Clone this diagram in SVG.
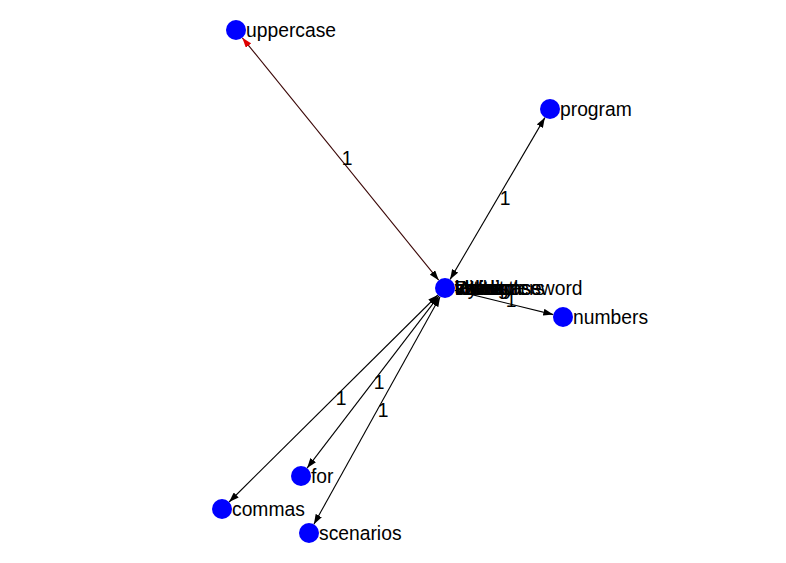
<svg xmlns="http://www.w3.org/2000/svg" width="786" height="563" viewBox="0 0 786 563">
<defs>
<marker id="ah" viewBox="0 0 10 7" refX="10" refY="3.5" markerWidth="10" markerHeight="7" markerUnits="userSpaceOnUse" orient="auto-start-reverse"><path d="M0,0 L10,3.5 L0,7 z" fill="#000"/></marker>
<marker id="ahr" viewBox="0 0 10 7" refX="10" refY="3.5" markerWidth="10" markerHeight="7" markerUnits="userSpaceOnUse" orient="auto"><path d="M0,0 L10,3.5 L0,7 z" fill="#e00000"/></marker>
<marker id="ahb" viewBox="0 0 10 7" refX="10" refY="3.5" markerWidth="10" markerHeight="7" markerUnits="userSpaceOnUse" orient="auto"><path d="M0,0 L10,3.5 L0,7 z" fill="#000"/></marker>
</defs>
<style>
text{font-family:"Liberation Sans",Arial,sans-serif;font-size:19.3px;fill:#000}
.n{fill:#0000ff}
.e{stroke:#000;stroke-width:1.1;fill:none}
.el{text-anchor:middle}
</style>
<rect width="786" height="563" fill="#fff"/>
<g id="connectors">
<line class="e" style="stroke:#3a0505" x1="438.7" y1="280.2" x2="242.3" y2="37.8" marker-end="url(#ahr)"/>
<line class="e" style="stroke:none" x1="242.3" y1="37.8" x2="438.7" y2="280.2" marker-end="url(#ahb)"/>
<line class="e" x1="450.1" y1="279.4" x2="544.9" y2="117.6" marker-start="url(#ah)" marker-end="url(#ah)"/>
<line class="e" x1="454.7" y1="290.4" x2="553.3" y2="314.6" marker-end="url(#ah)"/>
<line class="e" x1="438.9" y1="295.9" x2="307.1" y2="468.1" marker-start="url(#ah)" marker-end="url(#ah)"/>
<line class="e" x1="437.9" y1="295.0" x2="229.1" y2="502.0" marker-start="url(#ah)" marker-end="url(#ah)"/>
<line class="e" x1="440.1" y1="296.7" x2="313.9" y2="524.3" marker-start="url(#ah)" marker-end="url(#ah)"/>
<text class="el" x="347" y="165">1</text>
<text class="el" x="505" y="205">1</text>
<text class="el" x="511" y="307">1</text>
<text class="el" x="379" y="389">1</text>
<text class="el" x="341" y="405">1</text>
<text class="el" x="383" y="417">1</text>
</g>
<g id="node-uppercase"><circle class="n" cx="236" cy="30" r="10"/><text x="246" y="37">uppercase</text></g>
<g id="node-program"><circle class="n" cx="550" cy="109" r="10"/><text x="560" y="116">program</text></g>
<g id="node-numbers"><circle class="n" cx="563" cy="317" r="10"/><text x="573" y="324">numbers</text></g>
<g id="node-for"><circle class="n" cx="301" cy="476" r="10"/><text x="311" y="483">for</text></g>
<g id="node-commas"><circle class="n" cx="222" cy="509" r="10"/><text x="232" y="516">commas</text></g>
<g id="node-scenarios"><circle class="n" cx="309" cy="533" r="10"/><text x="319" y="540">scenarios</text></g>
<g id="node-center">
<circle class="n" cx="445" cy="288" r="10"/>
<text x="455" y="295">Write</text>
<text x="455" y="295">with</text>
<text x="455" y="295">validity</text>
<text x="455" y="295">Python</text>
<text x="455" y="295">strength</text>
<text x="455" y="295">check</text>
<text x="455" y="295">letters</text>
<text x="455" y="295">lowercase</text>
<text x="455" y="295">characters</text>
<text x="455" y="295">valid password</text>
</g>
</svg>
